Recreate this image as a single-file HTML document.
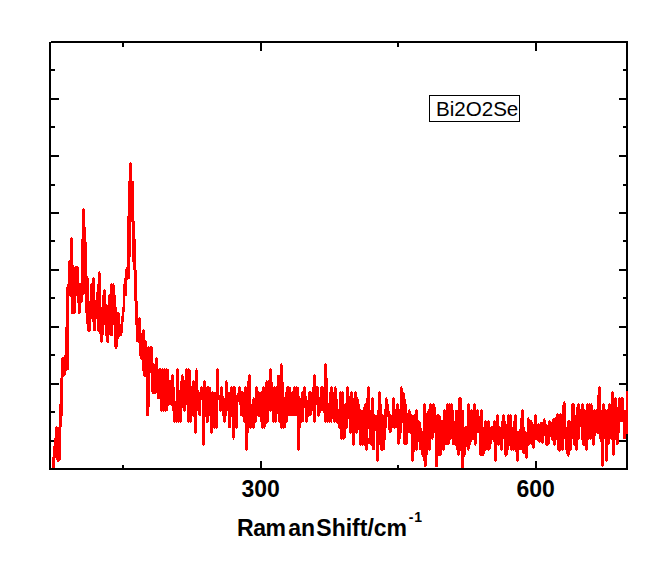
<!DOCTYPE html><html><head><meta charset="utf-8"><style>html,body{margin:0;padding:0;background:#fff}body{width:667px;height:568px;overflow:hidden;position:relative;font-family:"Liberation Sans",sans-serif}svg{position:absolute;left:0;top:0}.t{position:absolute;white-space:nowrap;color:#000;line-height:1}</style></head><body>
<svg width="667" height="568" viewBox="0 0 667 568" shape-rendering="crispEdges"><rect width="667" height="568" fill="#fff"/><rect x="49" y="42" width="2" height="428" fill="#000"/><rect x="51" y="41" width="577" height="2" fill="#000"/><rect x="626" y="41" width="2" height="429" fill="#000"/><rect x="49" y="468" width="579" height="2" fill="#000"/><rect x="51" y="98" width="8" height="2" fill="#000"/><rect x="619" y="98" width="7" height="2" fill="#000"/><rect x="51" y="155" width="8" height="2" fill="#000"/><rect x="619" y="155" width="7" height="2" fill="#000"/><rect x="51" y="212" width="8" height="2" fill="#000"/><rect x="619" y="212" width="7" height="2" fill="#000"/><rect x="51" y="269" width="8" height="2" fill="#000"/><rect x="619" y="269" width="7" height="2" fill="#000"/><rect x="51" y="326" width="8" height="2" fill="#000"/><rect x="619" y="326" width="7" height="2" fill="#000"/><rect x="51" y="383" width="8" height="2" fill="#000"/><rect x="619" y="383" width="7" height="2" fill="#000"/><rect x="51" y="440" width="8" height="2" fill="#000"/><rect x="619" y="440" width="7" height="2" fill="#000"/><rect x="51" y="69" width="4" height="2" fill="#000"/><rect x="623" y="69" width="3" height="2" fill="#000"/><rect x="51" y="126" width="4" height="2" fill="#000"/><rect x="623" y="126" width="3" height="2" fill="#000"/><rect x="51" y="184" width="4" height="2" fill="#000"/><rect x="623" y="184" width="3" height="2" fill="#000"/><rect x="51" y="240" width="4" height="2" fill="#000"/><rect x="623" y="240" width="3" height="2" fill="#000"/><rect x="51" y="297" width="4" height="2" fill="#000"/><rect x="623" y="297" width="3" height="2" fill="#000"/><rect x="51" y="354" width="4" height="2" fill="#000"/><rect x="623" y="354" width="3" height="2" fill="#000"/><rect x="51" y="411" width="4" height="2" fill="#000"/><rect x="623" y="411" width="3" height="2" fill="#000"/><rect x="260" y="43" width="2" height="8" fill="#000"/><rect x="260" y="461" width="2" height="7" fill="#000"/><rect x="535" y="43" width="2" height="8" fill="#000"/><rect x="535" y="461" width="2" height="7" fill="#000"/><rect x="122" y="43" width="2" height="4" fill="#000"/><rect x="122" y="465" width="2" height="3" fill="#000"/><rect x="397" y="43" width="2" height="4" fill="#000"/><rect x="397" y="465" width="2" height="3" fill="#000"/><path fill="#f00" d="M52 457h1v11h-1zM53 446h1v22h-1zM54 438h1v30h-1zM55 427h1v31h-1zM56 426h1v34h-1zM57 427h2v35h-2zM59 404h1v57h-1zM60 378h1v82h-1zM61 358h1v69h-1zM62 357h1v59h-1zM63 357h1v20h-1zM64 355h1v21h-1zM65 327h1v48h-1zM66 287h1v84h-1zM67 284h1v86h-1zM68 261h1v109h-1zM69 260h1v36h-1zM70 238h1v59h-1zM71 237h1v77h-1zM72 238h1v76h-1zM73 265h1v49h-1zM74 267h1v47h-1zM75 266h1v47h-1zM76 266h1v30h-1zM77 266h1v37h-1zM78 267h1v47h-1zM79 283h1v31h-1zM80 283h1v30h-1zM81 239h1v64h-1zM82 209h1v93h-1zM83 208h1v87h-1zM84 209h1v85h-1zM85 227h1v86h-1zM86 242h1v82h-1zM87 276h1v55h-1zM88 278h1v54h-1zM89 301h1v31h-1zM90 284h1v47h-1zM91 283h1v36h-1zM92 278h1v44h-1zM93 277h1v54h-1zM94 278h1v53h-1zM95 300h1v31h-1zM96 292h1v27h-1zM97 284h1v47h-1zM98 272h1v60h-1zM99 271h1v63h-1zM100 273h1v69h-1zM101 307h1v36h-1zM102 295h1v47h-1zM103 290h1v45h-1zM104 289h1v36h-1zM105 290h1v46h-1zM106 304h1v38h-1zM107 305h1v38h-1zM108 295h1v48h-1zM109 294h1v41h-1zM110 284h1v52h-1zM111 283h1v53h-1zM112 284h1v52h-1zM113 283h1v42h-1zM114 285h1v62h-1zM115 295h1v54h-1zM116 307h1v42h-1zM117 312h1v35h-1zM118 312h1v27h-1zM119 313h1v24h-1zM120 324h1v12h-1zM121 316h1v20h-1zM122 307h1v26h-1zM123 284h1v38h-1zM124 278h1v34h-1zM125 269h1v27h-1zM126 267h1v29h-1zM127 216h1v64h-1zM128 181h1v98h-1zM129 163h1v116h-1zM130 162h1v95h-1zM131 163h1v59h-1zM132 181h1v81h-1zM133 181h1v89h-1zM134 221h1v80h-1zM135 239h1v86h-1zM136 270h1v72h-1zM137 301h1v41h-1zM138 318h1v25h-1zM139 317h1v39h-1zM140 318h1v41h-1zM141 333h1v27h-1zM142 330h1v41h-1zM143 329h1v47h-1zM144 330h1v47h-1zM145 340h1v37h-1zM146 341h1v75h-1zM147 347h1v69h-1zM148 346h1v70h-1zM149 347h1v60h-1zM150 346h1v27h-1zM151 346h1v46h-1zM152 347h1v47h-1zM153 363h1v31h-1zM154 364h1v30h-1zM155 358h1v36h-1zM156 357h1v36h-1zM157 358h1v41h-1zM158 369h1v30h-1zM159 368h1v31h-1zM160 368h1v43h-1zM161 369h1v43h-1zM162 368h1v43h-1zM163 369h1v43h-1zM164 368h1v43h-1zM165 369h1v43h-1zM166 368h1v43h-1zM167 369h1v42h-1zM168 369h1v37h-1zM169 380h2v25h-2zM171 375h1v31h-1zM172 374h1v37h-1zM173 375h1v47h-1zM174 387h1v36h-1zM175 401h1v21h-1zM176 369h1v54h-1zM177 368h1v54h-1zM178 369h1v54h-1zM179 390h1v32h-1zM180 381h1v42h-1zM181 375h1v47h-1zM182 374h1v34h-1zM183 376h1v35h-1zM184 380h1v32h-1zM185 369h1v42h-1zM186 368h1v37h-1zM187 369h1v53h-1zM188 368h1v55h-1zM189 369h1v53h-1zM190 370h1v53h-1zM191 386h1v36h-1zM192 381h1v35h-1zM193 380h1v37h-1zM194 381h1v52h-1zM195 370h1v64h-1zM196 368h1v65h-1zM197 370h1v41h-1zM198 390h1v25h-1zM199 392h1v24h-1zM200 387h1v29h-1zM201 386h1v14h-1zM202 387h1v58h-1zM203 381h1v65h-1zM204 380h1v65h-1zM205 381h1v36h-1zM206 387h1v36h-1zM207 386h1v37h-1zM208 386h1v36h-1zM209 387h1v29h-1zM210 387h1v46h-1zM211 392h1v42h-1zM212 391h1v42h-1zM213 392h1v36h-1zM214 392h1v37h-1zM215 392h1v36h-1zM216 369h1v60h-1zM217 368h1v60h-1zM218 369h1v31h-1zM219 395h1v16h-1zM220 387h1v25h-1zM221 386h1v25h-1zM222 387h1v29h-1zM223 396h1v26h-1zM224 398h1v25h-1zM225 381h1v41h-1zM226 380h1v36h-1zM227 382h1v29h-1zM228 392h2v36h-2zM230 387h1v41h-1zM231 386h1v31h-1zM232 387h1v51h-1zM233 386h1v54h-1zM234 386h1v52h-1zM235 387h1v41h-1zM236 395h1v34h-1zM237 393h1v35h-1zM238 387h1v15h-1zM239 386h1v19h-1zM240 387h1v29h-1zM241 391h1v25h-1zM242 391h1v26h-1zM243 392h1v30h-1zM244 387h1v36h-1zM245 386h1v64h-1zM246 387h1v64h-1zM247 381h1v69h-1zM248 375h1v58h-1zM249 374h1v54h-1zM250 375h1v54h-1zM251 404h1v24h-1zM252 399h1v29h-1zM253 397h1v32h-1zM254 398h1v30h-1zM255 387h1v36h-1zM256 386h1v36h-1zM257 387h1v29h-1zM258 391h1v26h-1zM259 392h1v25h-1zM260 392h1v30h-1zM261 391h1v37h-1zM262 387h1v42h-1zM263 386h1v42h-1zM264 387h1v42h-1zM265 382h1v45h-1zM266 380h1v44h-1zM267 381h1v42h-1zM268 380h1v42h-1zM269 369h1v42h-1zM270 368h1v44h-1zM271 369h1v42h-1zM272 382h1v40h-1zM273 387h1v36h-1zM274 386h1v36h-1zM275 387h1v36h-1zM276 386h1v36h-1zM277 375h1v39h-1zM278 375h1v47h-1zM279 375h1v48h-1zM280 364h1v64h-1zM281 363h1v66h-1zM282 365h1v63h-1zM283 382h1v47h-1zM284 397h1v31h-1zM285 392h1v36h-1zM286 387h1v36h-1zM287 386h1v36h-1zM288 386h1v30h-1zM289 387h2v29h-2zM291 392h1v24h-1zM292 391h1v25h-1zM293 387h1v29h-1zM294 386h1v30h-1zM295 387h1v29h-1zM296 386h1v30h-1zM297 387h1v63h-1zM298 387h1v64h-1zM299 396h1v54h-1zM300 398h1v30h-1zM301 392h1v31h-1zM302 391h1v31h-1zM303 387h1v35h-1zM304 386h1v22h-1zM305 387h1v35h-1zM306 396h1v27h-1zM307 400h1v22h-1zM308 392h1v25h-1zM309 391h2v25h-2zM311 392h1v23h-1zM312 387h1v24h-1zM313 375h1v47h-1zM314 374h1v49h-1zM315 375h1v47h-1zM316 386h1v19h-1zM317 386h1v30h-1zM318 387h1v30h-1zM319 397h1v19h-1zM320 387h1v26h-1zM321 386h2v25h-2zM323 387h1v26h-1zM324 364h1v58h-1zM325 363h1v60h-1zM326 364h1v58h-1zM327 378h1v45h-1zM328 403h1v19h-1zM329 392h1v31h-1zM330 387h1v35h-1zM331 386h1v37h-1zM332 387h1v32h-1zM333 392h1v30h-1zM334 387h1v36h-1zM335 386h1v36h-1zM336 388h1v35h-1zM337 399h1v25h-1zM338 409h1v19h-1zM339 392h1v37h-1zM340 391h1v48h-1zM341 392h1v48h-1zM342 391h1v48h-1zM343 392h1v48h-1zM344 404h1v35h-1zM345 403h1v35h-1zM346 387h1v42h-1zM347 386h1v42h-1zM348 387h1v32h-1zM349 396h1v37h-1zM350 392h1v42h-1zM351 391h1v42h-1zM352 392h1v53h-1zM353 398h1v48h-1zM354 392h1v53h-1zM355 391h1v42h-1zM356 392h1v42h-1zM357 397h1v36h-1zM358 399h1v31h-1zM359 404h1v41h-1zM360 409h1v37h-1zM361 410h1v35h-1zM362 410h1v36h-1zM363 407h1v38h-1zM364 404h1v42h-1zM365 403h1v47h-1zM366 398h1v53h-1zM367 387h1v63h-1zM368 386h1v43h-1zM369 387h1v57h-1zM370 410h1v35h-1zM371 398h1v48h-1zM372 397h1v53h-1zM373 398h1v52h-1zM374 414h1v36h-1zM375 415h1v16h-1zM376 415h1v46h-1zM377 410h1v52h-1zM378 392h1v69h-1zM379 391h1v54h-1zM380 392h1v58h-1zM381 404h1v47h-1zM382 414h1v37h-1zM383 415h1v35h-1zM384 409h1v41h-1zM385 398h1v42h-1zM386 397h1v31h-1zM387 399h1v18h-1zM388 404h1v26h-1zM389 411h1v22h-1zM390 414h1v19h-1zM391 415h1v17h-1zM392 398h1v30h-1zM393 397h1v31h-1zM394 398h1v31h-1zM395 409h1v19h-1zM396 404h1v24h-1zM397 403h1v41h-1zM398 404h1v41h-1zM399 409h1v35h-1zM400 387h1v52h-1zM401 386h1v47h-1zM402 388h1v35h-1zM403 392h1v52h-1zM404 393h1v52h-1zM405 399h1v46h-1zM406 404h1v41h-1zM407 413h1v31h-1zM408 410h1v23h-1zM409 409h1v24h-1zM410 411h1v23h-1zM411 414h1v47h-1zM412 415h1v47h-1zM413 415h1v46h-1zM414 414h1v38h-1zM415 410h1v40h-1zM416 409h1v42h-1zM417 410h1v40h-1zM418 420h1v22h-1zM419 421h1v29h-1zM420 422h1v28h-1zM421 428h1v27h-1zM422 431h1v26h-1zM423 404h1v57h-1zM424 403h1v64h-1zM425 404h1v63h-1zM426 413h1v53h-1zM427 411h1v44h-1zM428 409h1v41h-1zM429 404h1v47h-1zM430 403h1v47h-1zM431 404h1v35h-1zM432 404h1v36h-1zM433 403h1v35h-1zM434 404h1v29h-1zM435 407h1v60h-1zM436 415h1v52h-1zM437 414h1v53h-1zM438 414h1v42h-1zM439 415h1v41h-1zM440 416h1v40h-1zM441 420h1v35h-1zM442 420h1v30h-1zM443 410h1v41h-1zM444 409h1v41h-1zM445 410h1v35h-1zM446 404h1v41h-1zM447 403h1v42h-1zM448 404h1v41h-1zM449 403h1v41h-1zM450 404h1v36h-1zM451 403h1v36h-1zM452 404h1v41h-1zM453 410h1v35h-1zM454 421h1v24h-1zM455 410h1v36h-1zM456 410h1v40h-1zM457 410h1v45h-1zM458 398h1v58h-1zM459 397h1v58h-1zM460 397h1v54h-1zM461 398h1v70h-1zM462 410h2v58h-2zM464 427h1v30h-1zM465 426h1v29h-1zM466 426h1v21h-1zM467 404h1v46h-1zM468 403h1v48h-1zM469 404h1v45h-1zM470 410h1v35h-1zM471 409h1v33h-1zM472 410h1v30h-1zM473 404h1v36h-1zM474 403h1v42h-1zM475 404h1v42h-1zM476 410h1v34h-1zM477 409h1v24h-1zM478 410h1v23h-1zM479 416h1v39h-1zM480 410h1v46h-1zM481 409h1v47h-1zM482 410h1v46h-1zM483 427h1v29h-1zM484 421h1v33h-1zM485 420h1v31h-1zM486 421h2v29h-2zM488 420h1v31h-1zM489 421h1v29h-1zM490 427h1v22h-1zM491 426h1v18h-1zM492 426h1v14h-1zM493 421h1v21h-1zM494 420h1v41h-1zM495 421h1v41h-1zM496 415h1v46h-1zM497 414h1v31h-1zM498 415h1v31h-1zM499 426h1v19h-1zM500 427h1v23h-1zM501 421h1v30h-1zM502 415h1v35h-1zM503 414h1v25h-1zM504 415h1v40h-1zM505 421h1v36h-1zM506 424h1v32h-1zM507 415h1v40h-1zM508 414h1v36h-1zM509 415h1v31h-1zM510 414h1v36h-1zM511 415h1v36h-1zM512 427h1v23h-1zM513 421h1v30h-1zM514 415h1v35h-1zM515 414h1v38h-1zM516 415h1v46h-1zM517 431h1v31h-1zM518 431h1v30h-1zM519 429h1v21h-1zM520 418h1v32h-1zM521 410h1v40h-1zM522 409h1v44h-1zM523 410h1v44h-1zM524 427h1v27h-1zM525 431h1v27h-1zM526 432h1v27h-1zM527 418h1v40h-1zM528 417h1v29h-1zM529 419h1v26h-1zM530 420h1v24h-1zM531 420h1v25h-1zM532 422h1v26h-1zM533 424h1v25h-1zM534 415h1v33h-1zM535 414h1v26h-1zM536 415h1v25h-1zM537 424h1v17h-1zM538 423h1v19h-1zM539 424h1v19h-1zM540 422h1v20h-1zM541 422h1v21h-1zM542 422h1v22h-1zM543 419h1v24h-1zM544 418h1v18h-1zM545 420h1v25h-1zM546 424h1v22h-1zM547 425h1v21h-1zM548 421h1v24h-1zM549 420h1v24h-1zM550 421h1v16h-1zM551 422h1v18h-1zM552 419h1v22h-1zM553 418h1v27h-1zM554 418h1v28h-1zM555 417h1v28h-1zM556 414h1v26h-1zM557 413h1v37h-1zM558 414h1v37h-1zM559 414h1v38h-1zM560 413h1v38h-1zM561 414h1v36h-1zM562 405h1v46h-1zM563 402h1v48h-1zM564 401h1v38h-1zM565 403h1v47h-1zM566 427h1v27h-1zM567 421h1v35h-1zM568 420h1v37h-1zM569 420h1v35h-1zM570 421h1v30h-1zM571 404h1v46h-1zM572 403h1v36h-1zM573 403h1v42h-1zM574 404h1v42h-1zM575 415h1v35h-1zM576 407h1v44h-1zM577 404h1v46h-1zM578 403h1v37h-1zM579 404h1v35h-1zM580 409h1v18h-1zM581 404h1v36h-1zM582 403h1v42h-1zM583 404h1v42h-1zM584 409h1v37h-1zM585 410h1v40h-1zM586 404h1v47h-1zM587 403h1v47h-1zM588 404h1v36h-1zM589 403h1v36h-1zM590 404h1v36h-1zM591 403h1v36h-1zM592 405h1v40h-1zM593 410h1v36h-1zM594 409h1v36h-1zM595 410h1v26h-1zM596 409h1v24h-1zM597 395h1v39h-1zM598 387h1v47h-1zM599 386h1v53h-1zM600 387h1v55h-1zM601 410h1v56h-1zM602 404h1v63h-1zM603 403h1v63h-1zM604 404h1v35h-1zM605 409h1v52h-1zM606 410h1v52h-1zM607 409h1v52h-1zM608 404h1v41h-1zM609 403h1v41h-1zM610 404h1v35h-1zM611 392h1v48h-1zM612 391h1v64h-1zM613 392h1v64h-1zM614 398h1v57h-1zM615 397h1v43h-1zM616 398h1v47h-1zM617 407h1v38h-1zM618 398h1v46h-1zM619 397h1v36h-1zM620 398h1v24h-1zM621 397h2v25h-2zM623 398h1v41h-1zM624 410h2v29h-2zM626 391h2v43h-2zM368 438h1v6h-1z"/><rect x="429.5" y="95.5" width="90" height="26" fill="#fff" stroke="#000" stroke-width="1"/></svg>
<div class="t" style="left:435.9px;top:99.3px;font-size:20.6px;">Bi2O2Se</div>
<div class="t" style="left:241.5px;top:478px;font-size:23px;font-weight:bold">300</div>
<div class="t" style="left:516.5px;top:478px;font-size:23px;font-weight:bold">600</div>
<div class="t" style="left:237.1px;top:516.6px;font-size:23px;font-weight:bold;letter-spacing:-0.5px">Ram</div>
<div class="t" style="left:288.2px;top:516.6px;font-size:23px;font-weight:bold">an</div>
<div class="t" style="left:316.3px;top:516.6px;font-size:23px;font-weight:bold">Shift/cm</div>
<div class="t" style="left:408.8px;top:510.2px;font-size:14px;font-weight:bold;letter-spacing:0.7px">-1</div>
</body></html>
